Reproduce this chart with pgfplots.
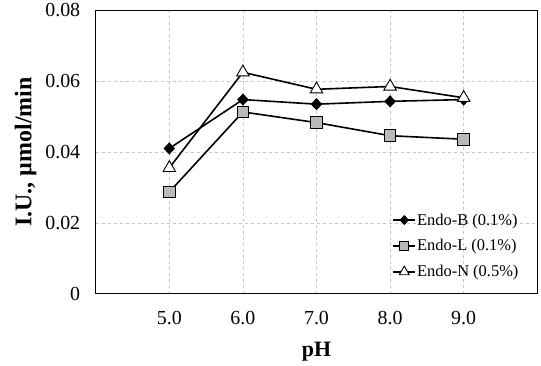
\documentclass[border=0pt]{standalone}
\usepackage{pgfplots}
\pgfplotsset{compat=1.18}
\usepackage{fontspec}
\setmainfont{Liberation Serif}
\usetikzlibrary{calc}
\begin{document}
\begin{tikzpicture}
\begin{axis}[
  name=ax,
  scale only axis,
  width=441.6bp, height=283.4bp,
  xmin=4, xmax=10, ymin=0, ymax=0.08,
  xtick={5,6,7,8,9},
  xticklabels={5.0,6.0,7.0,8.0,9.0},
  ytick={0,0.02,0.04,0.06,0.08},
  yticklabels={0,0.02,0.04,0.06,0.08},
  scaled y ticks=false,
  major tick length=0pt,
  axis line style={line width=1.1bp},
  grid=major,
  major grid style={dashed, gray!45, line width=0.5bp},
  tick label style={font=\fontsize{20}{22}\selectfont},
  xticklabel style={yshift=-14bp},
  yticklabel style={xshift=-12bp},
  xlabel={\textbf{pH}},
  ylabel={\textbf{I.U., µmol/min}},
  xlabel style={font=\fontsize{22}{24}\selectfont, at={(rel axis cs:0.5,0)}, anchor=center, yshift=-58bp},
  ylabel style={font=\fontsize{24}{26}\selectfont, yshift=2bp},
  legend style={at={(rel axis cs:0.96,0.05)}, anchor=south east, draw=none, fill=none,
    font=\fontsize{16.5}{18}\selectfont, row sep=11bp, inner sep=0pt,
    nodes={inner sep=1bp}},
  legend cell align=left,
  legend image code/.code={\draw[mark repeat=2,mark phase=2, every mark/.append style={scale=0.8}] plot coordinates {(0bp,0bp)(11bp,0bp)(22bp,0bp)};},
  every axis plot/.append style={line width=1.6bp, black},
]
\addplot[mark=diamond*, mark size=5.5bp, mark options={fill=black, line width=0.8bp, xscale=1.25}]
  coordinates {(5,0.0410)(6,0.0548)(7,0.0535)(8,0.0543)(9,0.0548)};
\addlegendentry{Endo-B (0.1\%)}
\addplot[mark=square*, mark size=5.8bp, mark options={fill=gray!55, line width=0.9bp}]
  coordinates {(5,0.0287)(6,0.0513)(7,0.0483)(8,0.0446)(9,0.0436)};
\addlegendentry{Endo-L (0.1\%)}
\addplot[mark=triangle*, mark size=7.2bp, mark options={fill=white, line width=0.9bp}]
  coordinates {(5,0.0355)(6,0.0625)(7,0.0577)(8,0.0585)(9,0.0553)};
\addlegendentry{Endo-N (0.5\%)}
\end{axis}
\path[use as bounding box] ($(ax.south west)+(-95.7bp,-72.3bp)$) rectangle ($(ax.north east)+(3.7bp,10.3bp)$);
\end{tikzpicture}
\end{document}
